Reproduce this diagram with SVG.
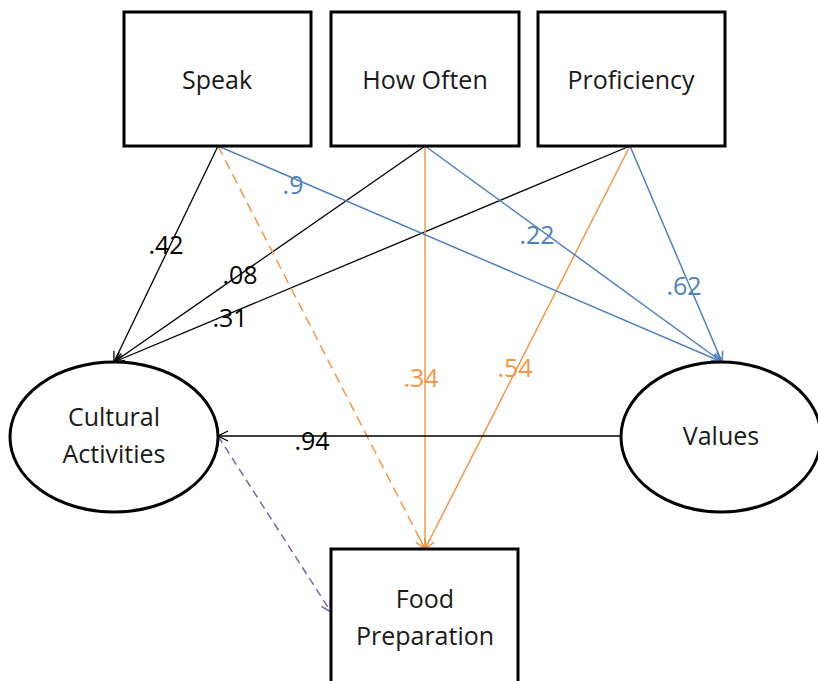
<svg xmlns="http://www.w3.org/2000/svg" width="818" height="681" viewBox="0 0 818 681">
<style>
.node{fill:#fff;stroke:#000;stroke-width:3}
.t{font-family:"Open Sans","Liberation Sans",sans-serif;font-size:25px;fill:#1a1a1a;text-anchor:middle}
.l{font-family:"Open Sans","Liberation Sans",sans-serif;font-size:25px;text-anchor:middle}
.k{stroke:#000;stroke-width:1.3;fill:none}
.b{stroke:#4f81bd;stroke-width:1.5;fill:none}
.o{stroke:#f79646;stroke-width:1.5;fill:none}
.p{stroke:#8064a2;stroke-width:1.5;fill:none;stroke-dasharray:8,5}
</style>
<defs>
<marker id="ak" viewBox="0 0 12 12" refX="11" refY="6" markerWidth="12" markerHeight="12" markerUnits="userSpaceOnUse" orient="auto"><path d="M1,1 L11,6 L1,11" fill="none" stroke="#000" stroke-width="1.3"/></marker>
<marker id="ab" viewBox="0 0 12 12" refX="11" refY="6" markerWidth="12" markerHeight="12" markerUnits="userSpaceOnUse" orient="auto"><path d="M1,1 L11,6 L1,11" fill="none" stroke="#4f81bd" stroke-width="1.5"/></marker>
<marker id="ao" viewBox="0 0 12 12" refX="11" refY="6" markerWidth="12" markerHeight="12" markerUnits="userSpaceOnUse" orient="auto"><path d="M1,1 L11,6 L1,11" fill="none" stroke="#f79646" stroke-width="1.5"/></marker>
<marker id="ap" viewBox="0 0 12 12" refX="11" refY="6" markerWidth="12" markerHeight="12" markerUnits="userSpaceOnUse" orient="auto"><path d="M1,1 L11,6 L1,11" fill="none" stroke="#8064a2" stroke-width="1.5"/></marker>
</defs>
<rect width="818" height="681" fill="#fff"/>
<g id="connectors">
<line class="k" x1="218" y1="146" x2="114" y2="362" marker-end="url(#ak)"/>
<line class="k" x1="425" y1="146" x2="114" y2="362" marker-end="url(#ak)"/>
<line class="k" x1="630" y1="146" x2="114" y2="362" marker-end="url(#ak)"/>
<line class="o" x1="218" y1="146" x2="425" y2="549" stroke-dasharray="10,6" marker-end="url(#ao)"/>
<line class="o" x1="425" y1="146" x2="425" y2="549" marker-end="url(#ao)"/>
<line class="o" x1="630" y1="146" x2="425" y2="549" marker-end="url(#ao)"/>
<line class="b" x1="218" y1="146" x2="722" y2="362" marker-end="url(#ab)"/>
<line class="b" x1="425" y1="146" x2="722" y2="362" marker-end="url(#ab)"/>
<line class="b" x1="630" y1="146" x2="722" y2="362" marker-end="url(#ab)"/>
<line class="k" x1="620" y1="436" x2="218" y2="436" marker-end="url(#ak)"/>
<line class="p" x1="218" y1="436" x2="331" y2="612" marker-end="url(#ap)"/>
<text class="l" x="166" y="254" fill="#000">.42</text>
<text class="l" x="240" y="284" fill="#000">.08</text>
<text class="l" x="230" y="327" fill="#000">.31</text>
<text class="l" x="293" y="194" fill="#4f81bd">.9</text>
<text class="l" x="537" y="244" fill="#4f81bd">.22</text>
<text class="l" x="684" y="295" fill="#4f81bd">.62</text>
<text class="l" x="421" y="387" fill="#f79646">.34</text>
<text class="l" x="515" y="377" fill="#f79646">.54</text>
<text class="l" x="312" y="450" fill="#000">.94</text>
</g>
<g id="speak"><rect class="node" x="124" y="12" width="187" height="134"/><text class="t" x="217" y="89">Speak</text></g>
<g id="how-often"><rect class="node" x="331" y="12" width="188" height="134"/><text class="t" x="425" y="89">How Often</text></g>
<g id="proficiency"><rect class="node" x="538" y="12" width="187" height="134"/><text class="t" x="631" y="89">Proficiency</text></g>
<g id="cultural-activities"><ellipse class="node" cx="114" cy="437" rx="104" ry="75"/><text class="t" x="114" y="426">Cultural</text><text class="t" x="114" y="463">Activities</text></g>
<g id="values"><ellipse class="node" cx="721" cy="437" rx="100" ry="75"/><text class="t" x="721" y="445">Values</text></g>
<g id="food-preparation"><rect class="node" x="331" y="549" width="187" height="140"/><text class="t" x="425" y="608">Food</text><text class="t" x="425" y="645">Preparation</text></g>
</svg>
